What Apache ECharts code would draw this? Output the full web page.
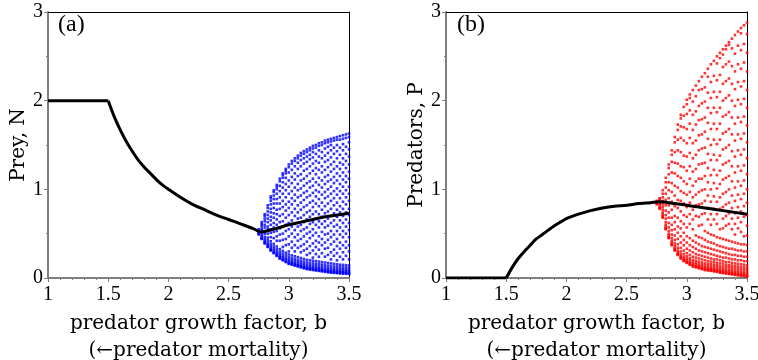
<!DOCTYPE html>
<html>
<head>
<meta charset="utf-8">
<script src="https://cdn.jsdelivr.net/npm/echarts@6/dist/echarts.min.js"></script>
<style>
  html, body { margin: 0; padding: 0; background: #fff; }
  #chart { width: 758px; height: 360px; }
</style>
</head>
<body>
<div id="chart"></div>
<script>
// equilibrium curves
const curveB = [1, 1.5, 1.55, 1.6, 1.65, 1.7, 1.75, 1.8, 1.85, 1.9, 1.95, 2.0, 2.1, 2.2, 2.3, 2.4, 2.5, 2.6, 2.7, 2.77, 2.9, 3.0, 3.1, 3.2, 3.3, 3.4, 3.5]
const preyEq = [2, 2, 1.82, 1.67, 1.54, 1.43, 1.33, 1.25, 1.18, 1.11, 1.05, 1.0, 0.91, 0.83, 0.77, 0.71, 0.66, 0.61, 0.56, 0.52, 0.56, 0.60, 0.63, 0.66, 0.69, 0.71, 0.73]
const predEq = [0, 0, 0.12, 0.22, 0.30, 0.37, 0.44, 0.49, 0.54, 0.59, 0.63, 0.67, 0.72, 0.76, 0.79, 0.81, 0.82, 0.84, 0.85, 0.86, 0.84, 0.82, 0.80, 0.78, 0.76, 0.74, 0.72]

// b values of the orbit columns
const orbitB = [2.75, 2.775, 2.8, 2.825, 2.85, 2.875, 2.9, 2.925, 2.95, 2.975, 3.0, 3.025, 3.05, 3.075, 3.1, 3.125,
  3.15, 3.175, 3.2, 3.225, 3.25, 3.275, 3.3, 3.325, 3.35, 3.375, 3.4, 3.425, 3.45, 3.475, 3.5]

// prey values visited at each b (one list per column)
const preyOrbit = [
  [0.49, 0.50, 0.51, 0.52, 0.53, 0.55],
  [0.44, 0.445, 0.455, 0.47, 0.49, 0.51, 0.54, 0.56, 0.59, 0.61, 0.63],
  [0.39, 0.395, 0.405, 0.42, 0.44, 0.465, 0.50, 0.53, 0.57, 0.60, 0.64, 0.67, 0.70, 0.72],
  [0.35, 0.355, 0.365, 0.38, 0.40, 0.425, 0.455, 0.50, 0.55, 0.58, 0.63, 0.67, 0.71, 0.75, 0.79, 0.82],
  [0.31, 0.315, 0.325, 0.34, 0.36, 0.385, 0.415, 0.46, 0.51, 0.55, 0.60, 0.65, 0.69, 0.74, 0.78, 0.83, 0.87, 0.90, 0.92],
  [0.28, 0.285, 0.295, 0.31, 0.33, 0.355, 0.385, 0.45, 0.52, 0.57, 0.62, 0.68, 0.73, 0.79, 0.84, 0.89, 0.93, 0.97, 0.99],
  [0.25, 0.255, 0.265, 0.28, 0.30, 0.325, 0.355, 0.42, 0.47, 0.53, 0.60, 0.66, 0.72, 0.77, 0.84, 0.89, 0.95, 1.00, 1.03, 1.05],
  [0.22, 0.225, 0.235, 0.25, 0.27, 0.295, 0.325, 0.42, 0.49, 0.56, 0.63, 0.70, 0.78, 0.84, 0.91, 0.98, 1.04, 1.09, 1.12],
  [0.20, 0.205, 0.215, 0.23, 0.25, 0.275, 0.305, 0.35, 0.43, 0.50, 0.58, 0.64, 0.72, 0.80, 0.87, 0.95, 1.02, 1.08, 1.13, 1.16, 1.18],
  [0.18, 0.185, 0.195, 0.21, 0.23, 0.255, 0.285, 0.37, 0.44, 0.53, 0.60, 0.68, 0.76, 0.83, 0.91, 0.99, 1.06, 1.13, 1.18, 1.21, 1.23],
  [0.16, 0.165, 0.175, 0.19, 0.21, 0.235, 0.265, 0.30, 0.38, 0.47, 0.55, 0.62, 0.71, 0.79, 0.86, 0.95, 1.03, 1.10, 1.19, 1.25, 1.28],
  [0.15, 0.155, 0.165, 0.18, 0.20, 0.225, 0.255, 0.34, 0.41, 0.50, 0.58, 0.65, 0.74, 0.83, 0.90, 0.98, 1.07, 1.14, 1.22, 1.29, 1.32],
  [0.14, 0.145, 0.155, 0.17, 0.19, 0.215, 0.245, 0.30, 0.37, 0.46, 0.54, 0.61, 0.70, 0.78, 0.87, 0.94, 1.02, 1.11, 1.18, 1.26, 1.32, 1.35],
  [0.13, 0.135, 0.145, 0.16, 0.18, 0.205, 0.235, 0.34, 0.42, 0.49, 0.58, 0.67, 0.74, 0.82, 0.91, 0.99, 1.06, 1.15, 1.23, 1.30, 1.35, 1.38],
  [0.12, 0.125, 0.135, 0.15, 0.17, 0.195, 0.225, 0.29, 0.36, 0.44, 0.53, 0.60, 0.68, 0.77, 0.85, 0.93, 1.01, 1.10, 1.17, 1.26, 1.33, 1.38, 1.41],
  [0.11, 0.115, 0.125, 0.14, 0.16, 0.185, 0.215, 0.31, 0.38, 0.47, 0.55, 0.63, 0.71, 0.80, 0.88, 0.96, 1.04, 1.12, 1.21, 1.29, 1.35, 1.40, 1.43],
  [0.10, 0.105, 0.115, 0.13, 0.15, 0.175, 0.205, 0.26, 0.33, 0.41, 0.50, 0.57, 0.66, 0.74, 0.82, 0.91, 0.98, 1.07, 1.15, 1.23, 1.31, 1.37, 1.42, 1.45],
  [0.095, 0.10, 0.11, 0.125, 0.145, 0.17, 0.20, 0.28, 0.36, 0.45, 0.52, 0.61, 0.69, 0.76, 0.85, 0.93, 1.02, 1.09, 1.18, 1.26, 1.34, 1.39, 1.44, 1.47],
  [0.09, 0.095, 0.105, 0.12, 0.14, 0.165, 0.195, 0.23, 0.31, 0.39, 0.48, 0.55, 0.63, 0.72, 0.80, 0.87, 0.96, 1.04, 1.12, 1.21, 1.29, 1.36, 1.42, 1.46, 1.49],
  [0.085, 0.09, 0.10, 0.115, 0.135, 0.16, 0.19, 0.27, 0.35, 0.42, 0.51, 0.60, 0.67, 0.75, 0.84, 0.92, 0.99, 1.08, 1.17, 1.24, 1.32, 1.40, 1.47, 1.50],
  [0.08, 0.085, 0.095, 0.11, 0.13, 0.155, 0.185, 0.24, 0.32, 0.40, 0.47, 0.57, 0.64, 0.72, 0.81, 0.89, 0.97, 1.05, 1.13, 1.22, 1.30, 1.37, 1.44, 1.49, 1.52],
  [0.075, 0.08, 0.09, 0.105, 0.125, 0.15, 0.18, 0.28, 0.37, 0.44, 0.52, 0.61, 0.69, 0.77, 0.85, 0.94, 1.02, 1.10, 1.19, 1.26, 1.35, 1.42, 1.50, 1.53],
  [0.07, 0.075, 0.085, 0.10, 0.12, 0.145, 0.175, 0.24, 0.33, 0.40, 0.49, 0.57, 0.64, 0.73, 0.81, 0.90, 0.97, 1.06, 1.14, 1.22, 1.31, 1.38, 1.46, 1.52, 1.55],
  [0.065, 0.07, 0.08, 0.095, 0.115, 0.14, 0.17, 0.26, 0.34, 0.43, 0.50, 0.59, 0.67, 0.75, 0.84, 0.92, 1.00, 1.09, 1.16, 1.25, 1.33, 1.41, 1.48, 1.53, 1.56],
  [0.06, 0.065, 0.075, 0.09, 0.11, 0.135, 0.165, 0.21, 0.29, 0.38, 0.46, 0.53, 0.62, 0.70, 0.78, 0.87, 0.95, 1.03, 1.11, 1.20, 1.28, 1.36, 1.44, 1.50, 1.54, 1.57],
  [0.058, 0.063, 0.072, 0.087, 0.107, 0.13, 0.16, 0.25, 0.32, 0.41, 0.49, 0.58, 0.65, 0.73, 0.82, 0.90, 0.98, 1.07, 1.14, 1.23, 1.31, 1.40, 1.47, 1.55, 1.58],
  [0.055, 0.06, 0.07, 0.085, 0.105, 0.128, 0.155, 0.20, 0.28, 0.36, 0.44, 0.53, 0.60, 0.69, 0.77, 0.85, 0.94, 1.01, 1.10, 1.18, 1.26, 1.35, 1.43, 1.50, 1.56, 1.59],
  [0.052, 0.057, 0.067, 0.082, 0.10, 0.125, 0.15, 0.24, 0.33, 0.40, 0.49, 0.57, 0.65, 0.74, 0.81, 0.90, 0.98, 1.06, 1.15, 1.23, 1.30, 1.39, 1.47, 1.56, 1.60],
  [0.05, 0.055, 0.065, 0.08, 0.098, 0.12, 0.148, 0.21, 0.29, 0.37, 0.46, 0.53, 0.62, 0.70, 0.78, 0.86, 0.95, 1.03, 1.11, 1.19, 1.28, 1.35, 1.44, 1.51, 1.57, 1.61],
  [0.048, 0.053, 0.063, 0.078, 0.095, 0.118, 0.145, 0.25, 0.34, 0.41, 0.50, 0.58, 0.66, 0.74, 0.83, 0.91, 0.99, 1.08, 1.15, 1.24, 1.32, 1.40, 1.48, 1.58, 1.62],
  [0.045, 0.05, 0.06, 0.075, 0.092, 0.115, 0.142, 0.21, 0.30, 0.37, 0.46, 0.54, 0.62, 0.71, 0.78, 0.87, 0.95, 1.03, 1.12, 1.20, 1.28, 1.37, 1.45, 1.53, 1.59, 1.63]
]

// predator values visited at each b
const predOrbit = [
  [0.83, 0.84, 0.85, 0.86, 0.87],
  [0.78, 0.79, 0.80, 0.82, 0.84, 0.85, 0.87, 0.89, 0.90],
  [0.68, 0.69, 0.70, 0.72, 0.74, 0.77, 0.80, 0.83, 0.87, 0.91, 0.95, 0.99],
  [0.55, 0.555, 0.565, 0.58, 0.60, 0.63, 0.67, 0.71, 0.76, 0.82, 0.88, 0.95, 1.02, 1.08, 1.13],
  [0.45, 0.455, 0.465, 0.48, 0.50, 0.53, 0.57, 0.62, 0.68, 0.74, 0.82, 0.90, 0.99, 1.08, 1.17, 1.24, 1.28],
  [0.37, 0.375, 0.385, 0.40, 0.42, 0.45, 0.49, 0.54, 0.60, 0.68, 0.77, 0.86, 0.97, 1.07, 1.19, 1.31, 1.39, 1.44],
  [0.31, 0.315, 0.325, 0.34, 0.36, 0.39, 0.43, 0.48, 0.55, 0.63, 0.70, 0.81, 0.93, 1.04, 1.18, 1.30, 1.42, 1.53, 1.59],
  [0.26, 0.265, 0.275, 0.29, 0.31, 0.34, 0.38, 0.44, 0.51, 0.58, 0.68, 0.79, 0.88, 1.02, 1.15, 1.29, 1.44, 1.56, 1.67, 1.73],
  [0.22, 0.225, 0.235, 0.25, 0.27, 0.30, 0.34, 0.40, 0.47, 0.56, 0.64, 0.75, 0.87, 0.98, 1.13, 1.26, 1.42, 1.58, 1.71, 1.80, 1.84],
  [0.19, 0.195, 0.205, 0.22, 0.24, 0.27, 0.31, 0.37, 0.43, 0.51, 0.61, 0.71, 0.84, 0.96, 1.09, 1.25, 1.38, 1.55, 1.70, 1.83, 1.93],
  [0.17, 0.175, 0.185, 0.20, 0.22, 0.245, 0.28, 0.33, 0.40, 0.47, 0.57, 0.69, 0.80, 0.94, 1.06, 1.21, 1.37, 1.52, 1.68, 1.85, 1.96, 2.01],
  [0.15, 0.155, 0.165, 0.18, 0.20, 0.225, 0.26, 0.31, 0.37, 0.45, 0.61, 0.72, 0.85, 0.97, 1.12, 1.26, 1.41, 1.58, 1.74, 1.89, 2.03, 2.07],
  [0.13, 0.135, 0.145, 0.16, 0.18, 0.205, 0.24, 0.29, 0.35, 0.42, 0.55, 0.66, 0.77, 0.91, 1.04, 1.20, 1.35, 1.52, 1.67, 1.84, 1.99, 2.12],
  [0.12, 0.125, 0.135, 0.15, 0.17, 0.195, 0.23, 0.27, 0.33, 0.40, 0.48, 0.70, 0.82, 0.94, 1.09, 1.23, 1.39, 1.55, 1.73, 1.88, 2.05, 2.17],
  [0.11, 0.115, 0.125, 0.14, 0.16, 0.185, 0.22, 0.26, 0.31, 0.38, 0.46, 0.59, 0.69, 0.83, 0.97, 1.12, 1.28, 1.44, 1.61, 1.78, 1.94, 2.12, 2.22],
  [0.10, 0.105, 0.115, 0.13, 0.15, 0.175, 0.21, 0.25, 0.30, 0.36, 0.45, 0.60, 0.72, 0.84, 0.99, 1.12, 1.29, 1.46, 1.62, 1.79, 1.97, 2.13, 2.27],
  [0.09, 0.095, 0.105, 0.12, 0.14, 0.165, 0.20, 0.24, 0.29, 0.35, 0.43, 0.53, 0.73, 0.87, 1.00, 1.15, 1.30, 1.47, 1.65, 1.81, 1.99, 2.15, 2.31],
  [0.085, 0.09, 0.10, 0.115, 0.135, 0.16, 0.19, 0.23, 0.28, 0.34, 0.41, 0.51, 0.66, 0.79, 0.93, 1.08, 1.24, 1.40, 1.57, 1.75, 1.92, 2.09, 2.27, 2.36],
  [0.08, 0.085, 0.095, 0.11, 0.13, 0.155, 0.185, 0.22, 0.27, 0.33, 0.40, 0.49, 0.60, 0.72, 0.86, 1.00, 1.16, 1.33, 1.50, 1.68, 1.86, 2.03, 2.21, 2.41],
  [0.075, 0.08, 0.09, 0.105, 0.125, 0.15, 0.18, 0.21, 0.26, 0.32, 0.39, 0.48, 0.66, 0.78, 0.92, 1.07, 1.22, 1.39, 1.56, 1.74, 1.92, 2.10, 2.28, 2.45],
  [0.07, 0.075, 0.085, 0.10, 0.12, 0.145, 0.17, 0.21, 0.25, 0.31, 0.37, 0.46, 0.61, 0.72, 0.86, 1.01, 1.16, 1.33, 1.51, 1.68, 1.87, 2.04, 2.23, 2.42, 2.50],
  [0.06, 0.065, 0.075, 0.09, 0.11, 0.135, 0.165, 0.20, 0.24, 0.30, 0.36, 0.45, 0.55, 0.78, 0.91, 1.06, 1.21, 1.38, 1.56, 1.74, 1.92, 2.10, 2.29, 2.48, 2.54],
  [0.055, 0.06, 0.07, 0.085, 0.105, 0.13, 0.16, 0.19, 0.23, 0.29, 0.35, 0.44, 0.56, 0.67, 0.80, 0.95, 1.11, 1.28, 1.45, 1.63, 1.82, 2.00, 2.19, 2.38, 2.52, 2.58],
  [0.05, 0.055, 0.065, 0.08, 0.10, 0.125, 0.15, 0.18, 0.23, 0.28, 0.34, 0.43, 0.59, 0.70, 0.83, 0.97, 1.13, 1.30, 1.47, 1.65, 1.84, 2.03, 2.22, 2.41, 2.58, 2.62],
  [0.045, 0.05, 0.06, 0.075, 0.095, 0.12, 0.145, 0.18, 0.22, 0.27, 0.33, 0.42, 0.61, 0.73, 0.85, 1.00, 1.15, 1.32, 1.50, 1.68, 1.87, 2.06, 2.25, 2.44, 2.63, 2.66],
  [0.04, 0.045, 0.055, 0.07, 0.09, 0.115, 0.14, 0.17, 0.21, 0.26, 0.33, 0.41, 0.55, 0.67, 0.79, 0.93, 1.09, 1.26, 1.43, 1.62, 1.81, 2.00, 2.19, 2.39, 2.59, 2.70],
  [0.035, 0.04, 0.05, 0.065, 0.085, 0.11, 0.135, 0.165, 0.21, 0.26, 0.32, 0.40, 0.49, 0.61, 0.73, 0.87, 1.02, 1.19, 1.37, 1.55, 1.74, 1.94, 2.13, 2.33, 2.53, 2.74],
  [0.03, 0.035, 0.045, 0.06, 0.08, 0.105, 0.13, 0.16, 0.20, 0.25, 0.31, 0.39, 0.56, 0.68, 0.80, 0.94, 1.09, 1.26, 1.44, 1.62, 1.81, 2.01, 2.21, 2.41, 2.62, 2.78],
  [0.025, 0.03, 0.04, 0.055, 0.075, 0.10, 0.125, 0.155, 0.20, 0.25, 0.31, 0.38, 0.52, 0.63, 0.75, 0.89, 1.04, 1.21, 1.39, 1.57, 1.76, 1.96, 2.16, 2.36, 2.57, 2.76, 2.82],
  [0.02, 0.025, 0.035, 0.05, 0.07, 0.095, 0.12, 0.15, 0.19, 0.24, 0.30, 0.38, 0.47, 0.69, 0.81, 0.95, 1.10, 1.27, 1.45, 1.63, 1.82, 2.02, 2.22, 2.43, 2.64, 2.85],
  [0.015, 0.02, 0.03, 0.045, 0.065, 0.09, 0.115, 0.145, 0.19, 0.24, 0.30, 0.37, 0.48, 0.59, 0.71, 0.85, 1.00, 1.17, 1.35, 1.53, 1.72, 1.92, 2.12, 2.33, 2.54, 2.75, 2.88]
]

const xTicks = { min: 1, max: 3.5, interval: 0.5 }
const yTicks = { min: 0, max: 3, interval: 1 }
const panelTags = ['(a)', '(b)']
const yTitles = ['Prey, N', 'Predators, P']
const xTitle = 'predator growth factor, b\n(\u2190predator mortality)'

const grey = '#7f7f7f'
const chart = echarts.init(document.getElementById('chart'))

function orbitPoints (cols) {
  const pts = []
  cols.forEach((col, i) => {
    col.forEach(v => pts.push([orbitB[i], v]))
  })
  return pts
}

function pairs (ys) {
  return curveB.map((b, i) => [b, ys[i]])
}

function bottomAxis (gi) {
  return {
    type: 'value', gridIndex: gi, position: 'bottom', ...xTicks,
    name: xTitle,
    nameLocation: 'middle',
    nameGap: 29,
    nameTextStyle: { fontFamily: 'DejaVu Serif', fontSize: 20, lineHeight: 27, color: '#000' },
    axisLine: { onZero: false, lineStyle: { color: grey, width: 2 } },
    axisTick: { length: 4, lineStyle: { color: grey } },
    minorTick: { show: true, splitNumber: 5, length: 2, lineStyle: { color: grey } },
    axisLabel: { fontFamily: 'Liberation Serif', fontSize: 20, color: '#000', margin: 7 },
    splitLine: { show: false }
  }
}

function leftAxis (gi) {
  return {
    type: 'value', gridIndex: gi, position: 'left', ...yTicks,
    name: yTitles[gi],
    nameLocation: 'middle',
    nameGap: 19,
    nameTextStyle: { fontFamily: 'DejaVu Serif', fontSize: 20, color: '#000' },
    axisLine: { onZero: false, lineStyle: { color: grey, width: 2 } },
    axisTick: { length: 4, lineStyle: { color: grey } },
    minorTick: { show: true, splitNumber: 2, length: 2, lineStyle: { color: grey } },
    axisLabel: { fontFamily: 'Liberation Serif', fontSize: 20, color: '#000', margin: 5 },
    splitLine: { show: false }
  }
}

// plain frame lines on the top and right sides
function frameAxis (gi, pos, range) {
  return {
    type: 'value', gridIndex: gi, position: pos, ...range,
    axisLine: { onZero: false, lineStyle: { color: '#000', width: 1 } },
    axisTick: { show: false },
    axisLabel: { show: false },
    splitLine: { show: false }
  }
}

// black equilibrium line: flat part straight, the rest smoothed
function eqLines (axis, ys) {
  const base = {
    type: 'line', xAxisIndex: axis, yAxisIndex: axis, z: 3, silent: true,
    showSymbol: false, symbol: 'none',
    lineStyle: { color: '#000', width: 3 }
  }
  const pts = pairs(ys)
  return [
    { ...base, data: pts.slice(0, 2) },
    { ...base, smooth: 0.2, data: pts.slice(1) }
  ]
}

const option = {
  animation: false,
  grid: [
    { left: 48, top: 12, width: 301, height: 266, outerBoundsMode: 'none', containLabel: false },
    { left: 446, top: 12, width: 301, height: 266, outerBoundsMode: 'none', containLabel: false }
  ],
  xAxis: [bottomAxis(0), frameAxis(0, 'top', xTicks), bottomAxis(1), frameAxis(1, 'top', xTicks)],
  yAxis: [leftAxis(0), frameAxis(0, 'right', yTicks), leftAxis(1), frameAxis(1, 'right', yTicks)],
  graphic: [
    { type: 'text', left: 58, top: 13, style: { text: panelTags[0], font: '24px "Liberation Serif"', fill: '#000' } },
    { type: 'text', left: 457, top: 13, style: { text: panelTags[1], font: '24px "Liberation Serif"', fill: '#000' } }
  ],
  series: [
    {
      type: 'scatter', xAxisIndex: 0, yAxisIndex: 0, z: 2, silent: true,
      symbol: 'rect', symbolSize: 2.6,
      itemStyle: { color: '#0000ff' },
      data: orbitPoints(preyOrbit)
    },
    ...eqLines(0, preyEq),
    {
      type: 'scatter', xAxisIndex: 2, yAxisIndex: 2, z: 2, silent: true,
      symbol: 'rect', symbolSize: 2.6,
      itemStyle: { color: '#ff0000' },
      data: orbitPoints(predOrbit)
    },
    ...eqLines(2, predEq)
  ]
}

chart.setOption(option)
</script>
</body>
</html>
